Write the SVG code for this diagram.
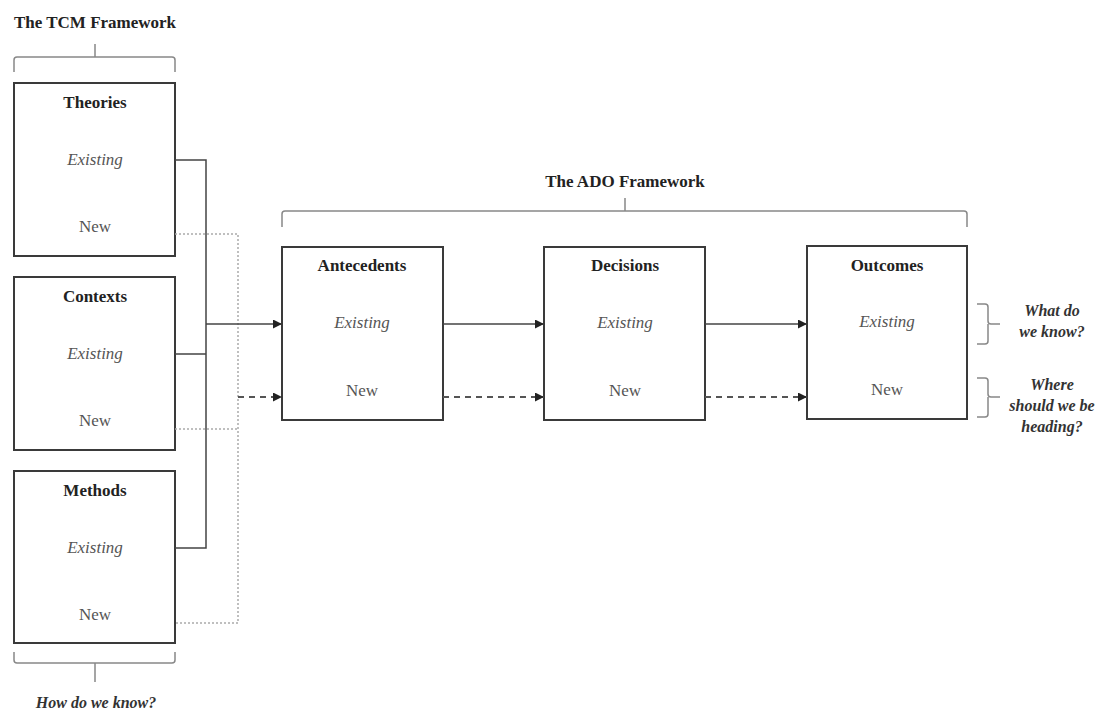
<svg xmlns="http://www.w3.org/2000/svg" width="1100" height="713" viewBox="0 0 1100 713">
<defs>
<style>
.box{fill:#fff;stroke:#3a3a3a;stroke-width:2}
.hd{font-family:"Liberation Serif",serif;font-weight:bold;font-size:17px;fill:#222;text-anchor:middle}
.ex{font-family:"Liberation Serif",serif;font-style:italic;font-size:17px;fill:#555;text-anchor:middle}
.nw{font-family:"Liberation Serif",serif;font-size:17px;fill:#555;text-anchor:middle}
.q{font-family:"Liberation Serif",serif;font-weight:bold;font-style:italic;font-size:16px;fill:#333;text-anchor:middle}
.solid{fill:none;stroke:#444;stroke-width:1.5}
.dot{fill:none;stroke:#aaa;stroke-width:1.5;stroke-dasharray:2 2}
.dash{fill:none;stroke:#555;stroke-width:2;stroke-dasharray:6 5}
.brace{fill:none;stroke:#888;stroke-width:1.5}
</style>
<marker id="ah" viewBox="0 0 10 10" refX="10" refY="5" markerWidth="9" markerHeight="9" markerUnits="userSpaceOnUse" orient="auto">
<path d="M0,0 L10,5 L0,10 z" fill="#222"/>
</marker>
</defs>
<rect width="1100" height="713" fill="#fff"/>

<g id="tcm-title">
<text class="hd" x="95" y="28">The TCM Framework</text>
<path class="brace" d="M95,44 V57 M14,72 V60 Q14,57 17,57 H172 Q175,57 175,60 V72"/>
</g>

<g id="theories">
<rect class="box" x="14" y="83" width="161" height="173"/>
<text class="hd" x="95" y="108">Theories</text>
<text class="ex" x="95" y="165">Existing</text>
<text class="nw" x="95" y="232">New</text>
</g>
<g id="contexts">
<rect class="box" x="14" y="277" width="161" height="173"/>
<text class="hd" x="95" y="302">Contexts</text>
<text class="ex" x="95" y="359">Existing</text>
<text class="nw" x="95" y="426">New</text>
</g>
<g id="methods">
<rect class="box" x="14" y="471" width="161" height="172"/>
<text class="hd" x="95" y="496">Methods</text>
<text class="ex" x="95" y="553">Existing</text>
<text class="nw" x="95" y="620">New</text>
</g>

<g id="tcm-question">
<path class="brace" d="M14,652 V660 Q14,663 17,663 H172 Q175,663 175,660 V652 M95,663 V682"/>
<text class="q" x="96" y="708">How do we know?</text>
</g>

<g id="ado-title">
<text class="hd" x="625" y="187">The ADO Framework</text>
<path class="brace" d="M625,198 V211 M282,227 V214 Q282,211 285,211 H964 Q967,211 967,214 V227"/>
</g>

<g id="antecedents">
<rect class="box" x="282" y="247" width="161" height="173"/>
<text class="hd" x="362" y="271">Antecedents</text>
<text class="ex" x="362" y="328">Existing</text>
<text class="nw" x="362" y="396">New</text>
</g>
<g id="decisions">
<rect class="box" x="544" y="247" width="161" height="173"/>
<text class="hd" x="625" y="271">Decisions</text>
<text class="ex" x="625" y="328">Existing</text>
<text class="nw" x="625" y="396">New</text>
</g>
<g id="outcomes">
<rect class="box" x="807" y="246" width="160" height="173"/>
<text class="hd" x="887" y="271">Outcomes</text>
<text class="ex" x="887" y="327">Existing</text>
<text class="nw" x="887" y="395">New</text>
</g>

<g id="q-know">
<path class="brace" d="M977,304 H985 Q988,304 988,307 V321 Q988,324 991,324 H1000 M988,324 V341 Q988,344 985,344 H977"/>
<text class="q" x="1052" y="316">What do</text>
<text class="q" x="1052" y="337">we know?</text>
</g>
<g id="q-heading">
<path class="brace" d="M977,378 H985 Q988,378 988,381 V394 Q988,397 991,397 H1000 M988,397 V414 Q988,417 985,417 H977"/>
<text class="q" x="1052" y="390">Where</text>
<text class="q" x="1052" y="411">should we be</text>
<text class="q" x="1052" y="432">heading?</text>
</g>

<g id="connectors">
<path class="solid" d="M175,160 H206 V548 H175 M175,354 H206"/>
<path class="dot" d="M175,234 H238 V623 H175 M175,429 H238"/>
<path class="solid" d="M206,324 H282" marker-end="url(#ah)"/>
<path class="dash" d="M238,397 H282" marker-end="url(#ah)"/>
<path class="solid" d="M443,324 H544" marker-end="url(#ah)"/>
<path class="dash" d="M443,397 H544" marker-end="url(#ah)"/>
<path class="solid" d="M705,324 H807" marker-end="url(#ah)"/>
<path class="dash" d="M705,397 H807" marker-end="url(#ah)"/>
</g>
</svg>
